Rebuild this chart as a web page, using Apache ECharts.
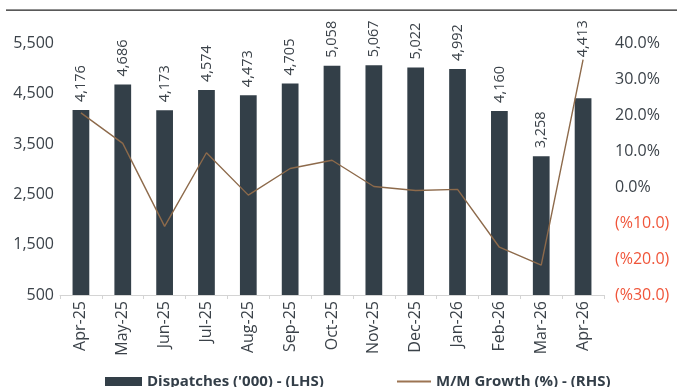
<!DOCTYPE html>
<html>
<head>
<meta charset="utf-8">
<script src="https://cdn.jsdelivr.net/npm/echarts@6/dist/echarts.min.js"></script>
<style>html,body{margin:0;padding:0;background:#fff;}#c{width:677px;height:387px;}</style>
</head>
<body>
<div id="c"></div>
<script>
const categories = ['Apr-25','May-25','Jun-25','Jul-25','Aug-25','Sep-25','Oct-25','Nov-25','Dec-25','Jan-26','Feb-26','Mar-26','Apr-26'];
const dispatches = [4176, 4686, 4173, 4574, 4473, 4705, 5058, 5067, 5022, 4992, 4160, 3258, 4413];
const growth = [20.7, 12.2, -10.9, 9.6, -2.2, 5.2, 7.5, 0.2, -0.9, -0.6, -16.7, -21.7, 35.5];
const leftTicks = {min: 500, max: 5500, interval: 1000};
const rightTicks = {min: -30, max: 40, interval: 10};

const FONT = 'Open Sans';
const TXT = '#3b4249';
const BAR_NAME = "Dispatches ('000) - (LHS)";
const LINE_NAME = 'M/M Growth (%) - (RHS)';
const chart = echarts.init(document.getElementById('c'), null, {renderer: 'canvas'});

const barData = dispatches.map((v, i) => {
  if (i === dispatches.length - 1) {
    return {value: v, label: {distance: 41}};
  }
  return v;
});

const legendText = {fontFamily: FONT, fontSize: 15, fontWeight: 'bold', color: '#333e48'};

chart.setOption({
  animation: false,
  backgroundColor: '#fff',
  grid: {left: 60, right: 73, top: 43.5, bottom: 92, containLabel: false},
  graphic: [{
    type: 'rect', shape: {x: 6, y: 9.5, width: 671, height: 1.2},
    style: {fill: '#222'}, silent: true
  }],
  legend: [{
    left: 100, top: 369,
    itemWidth: 37, itemHeight: 9,
    textStyle: legendText,
    data: [{name: BAR_NAME, icon: 'rect'}]
  }, {
    left: 392, top: 369,
    itemWidth: 34, itemHeight: 2,
    textStyle: legendText,
    data: [{name: LINE_NAME, icon: 'rect', itemStyle: {color: '#9c7452'}}]
  }],
  xAxis: {
    type: 'category',
    data: categories,
    boundaryGap: true,
    axisLine: {onZero: false, lineStyle: {color: '#d4d4d4', width: 1}},
    axisTick: {show: true, length: 4, lineStyle: {color: '#d4d4d4'}},
    axisLabel: {rotate: 90, margin: 6, fontFamily: FONT, fontSize: 16, color: TXT}
  },
  yAxis: [{
    type: 'value',
    min: leftTicks.min, max: leftTicks.max, interval: leftTicks.interval,
    splitLine: {show: false},
    axisLine: {show: false}, axisTick: {show: false},
    axisLabel: {
      margin: 6, fontFamily: FONT, fontSize: 16, color: TXT,
      formatter: v => v.toLocaleString('en-US')
    }
  }, {
    type: 'value',
    min: rightTicks.min, max: rightTicks.max, interval: rightTicks.interval,
    splitLine: {show: false},
    axisLine: {show: false}, axisTick: {show: false},
    axisLabel: {
      margin: 11, fontFamily: FONT, fontSize: 16,
      color: v => (v < 0 ? '#f0553a' : TXT),
      formatter: v => (v < 0 ? '(%' + (-v).toFixed(1) + ')' : v.toFixed(1) + '%')
    }
  }],
  series: [{
    name: BAR_NAME,
    type: 'bar',
    yAxisIndex: 0,
    data: barData,
    barWidth: '40%',
    itemStyle: {color: '#333f48'},
    label: {
      show: true, position: 'top', rotate: 90, align: 'left', verticalAlign: 'middle',
      distance: 8, fontFamily: FONT, fontSize: 14.5, color: TXT,
      formatter: p => Number(p.value).toLocaleString('en-US')
    }
  }, {
    name: LINE_NAME,
    type: 'line',
    yAxisIndex: 1,
    data: growth,
    symbol: 'none',
    lineStyle: {color: '#8d6a4b', width: 1.4},
    itemStyle: {color: '#9c7452'}
  }]
});
</script>
</body>
</html>
